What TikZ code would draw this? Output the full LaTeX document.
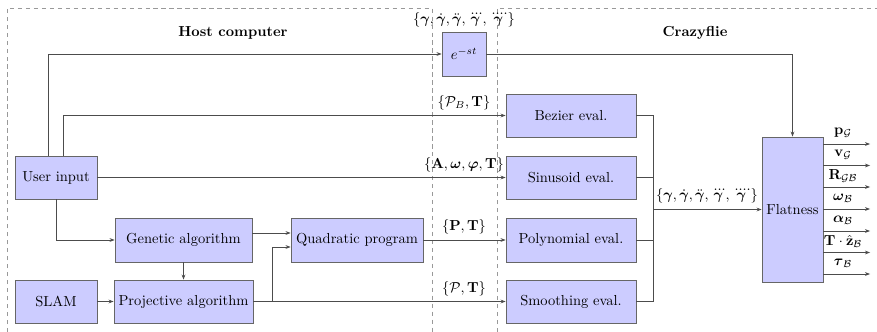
\documentclass[tikz,border=0pt]{standalone}
\usepackage{amsmath,amssymb}
\usetikzlibrary{arrows.meta,calc}
\begin{document}
\begin{tikzpicture}[x=0.2424mm,y=-0.2424mm,
  blk/.style 2 args={draw=black!60, fill=blue!20, line width=0.55pt,
    minimum width=#1*0.2424mm, minimum height=#2*0.2424mm, inner sep=0pt},
  conn/.style={draw=black!70, line width=0.5pt},
  arr/.style={conn, -{Stealth[length=3.5pt,width=2.6pt]}},
  zone/.style={draw=black!40, line width=0.4pt, dash pattern=on 3pt off 2.5pt},
  lbl/.style={inner sep=0pt}]
\useasboundingbox (0,0) rectangle (877,332);
% regions
\draw[zone] (7,332) -- (7,8) -- (432,8) -- (432,332);
\draw[zone] (497,332) -- (497,8) -- (877,8);
\node[font=\bfseries] (th) at (233,33) {Host computer};
\node[font=\bfseries] (tc) at (695,33) {Crazyflie};
% blocks
\node[blk={82}{43}] (ui) at (56,177.5) {User input};
\node[blk={82}{43}] (slam) at (56,301.5) {SLAM};
\node[blk={137}{44}] (ga) at (183.5,240) {Genetic algorithm};
\node[blk={139}{43}] (pa) at (183.5,301.5) {Projective algorithm};
\node[blk={132}{44}] (qp) at (357,240) {Quadratic program};
\node[blk={44}{44}] (del) at (464,54) {$e^{-st}$};
\node[blk={130}{43}] (bez) at (571,115.5) {Bezier eval.};
\node[blk={130}{43}] (sin) at (571,177.5) {Sinusoid eval.};
\node[blk={130}{44}] (pol) at (571,240) {Polynomial eval.};
\node[blk={130}{43}] (smo) at (571,301.5) {Smoothing eval.};
\node[blk={61}{145}] (flat) at (792.5,209.5) {Flatness};
% labels
\node[lbl] (l0) at (464,20) {$\{\boldsymbol\gamma, \dot{\boldsymbol\gamma}, \ddot{\boldsymbol\gamma}, \dddot{\boldsymbol\gamma}, \ddddot{\boldsymbol\gamma}\}$};
\node[lbl] (l1) at (464,103) {$\{\mathcal{P}_B, \mathbf{T}\}$};
\node[lbl] (l2) at (464,165) {$\{\mathbf{A}, \boldsymbol\omega, \boldsymbol\varphi, \mathbf{T}\}$};
\node[lbl] (l3) at (464,227) {$\{\mathbf{P}, \mathbf{T}\}$};
\node[lbl] (l4) at (464,289) {$\{\mathcal{P}, \mathbf{T}\}$};
\node[lbl] (l5) at (707,196) {$\{\boldsymbol\gamma, \dot{\boldsymbol\gamma}, \ddot{\boldsymbol\gamma}, \dddot{\boldsymbol\gamma}, \ddddot{\boldsymbol\gamma}\}$};
% connectors
\draw[arr] ($(ui.north)+(-8,0)$) |- (del.west);
\draw[arr] (del.east) -| (flat.north);
\draw[arr] ($(ui.north)+(7,0)$) |- (bez.west);
\draw[arr] (ui.east) -- (sin.west);
\draw[arr] (ui.south) |- (ga.west);
\draw[arr] (ga.south) -- (pa.north);
\draw[arr] (slam.east) -- (pa.west);
\draw[arr] ($(ga.east)+(0,-7)$) -- ($(qp.west)+(0,-7)$);
\coordinate (jn) at ($(pa.east)+(19,0)$);
\draw[arr] (pa.east) -- (jn) |- ($(qp.west)+(0,7)$);
\draw[arr] (pa.east) -- (smo.west);
\draw[arr] (qp.east) -- (pol.west);
\coordinate (mg) at (653,209.5);
\draw[conn] (bez.east) -| (mg);
\draw[conn] (smo.east) -| (mg);
\draw[conn] (sin.east) -- (sin.east -| mg);
\draw[conn] (pol.east) -- (pol.east -| mg);
\draw[arr] (mg) -- (flat.west);
% outputs
\foreach \i/\y/\t in {1/144/{\mathbf{p}_{\mathcal{G}}}, 2/165.5/{\mathbf{v}_{\mathcal{G}}}, 3/187/{\mathbf{R}_{\mathcal{GB}}}, 4/209/{\boldsymbol\omega_{\mathcal{B}}}, 5/231/{\boldsymbol\alpha_{\mathcal{B}}}, 6/252.5/{\mathbf{T}\cdot\hat{\mathbf{z}}_{\mathcal{B}}}, 7/274/{\boldsymbol\tau_{\mathcal{B}}}}{
  \coordinate (o\i) at (870,\y);
  \draw[arr] (flat.east |- o\i) -- (o\i);
  \node[lbl] (ol\i) at (843,\y-11) {$\t$};
}
\end{tikzpicture}
\end{document}
